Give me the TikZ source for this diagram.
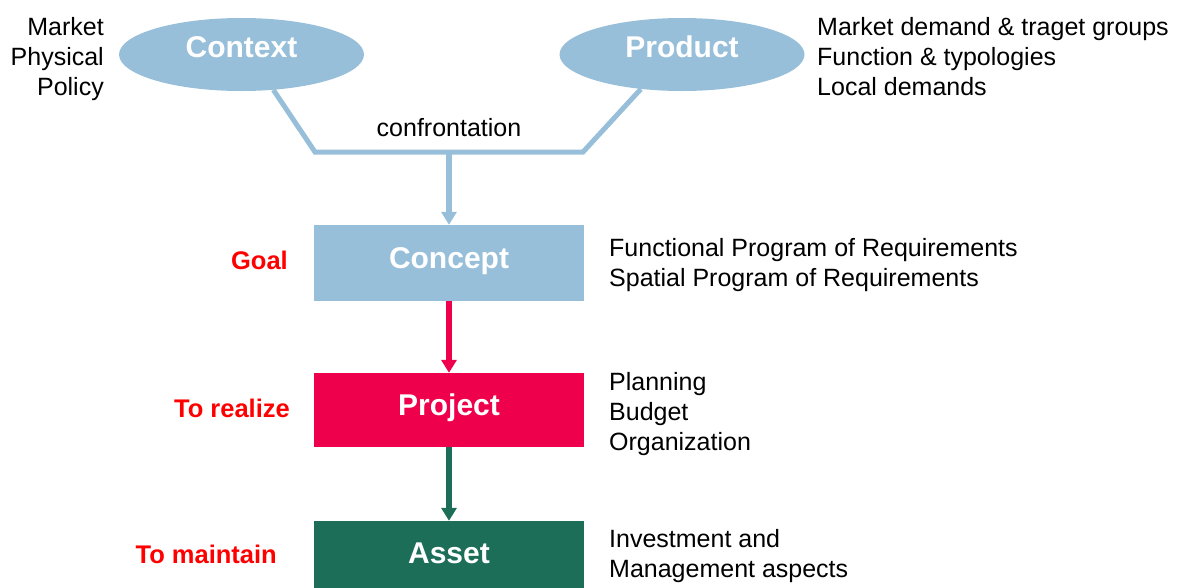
\documentclass[tikz,border=0pt]{standalone}
\usepackage{fontspec}
\setmainfont{Liberation Sans}
\usetikzlibrary{arrows.meta,shapes.geometric,backgrounds}
\definecolor{skyblue}{RGB}{152,191,218}
\definecolor{crimson}{RGB}{238,0,76}
\definecolor{pine}{RGB}{28,110,89}
\begin{document}
\begin{tikzpicture}[x=1pt,y=-1pt,
  bubble/.style={ellipse, fill=skyblue, draw=none, minimum width=245pt,
    minimum height=73pt, inner sep=0pt, text=white,
    font=\fontsize{30}{36}\selectfont\bfseries, text height=21.5pt, text depth=15.1pt},
  stage/.style={rectangle, fill=#1, minimum width=270pt, minimum height=74pt,
    inner sep=0pt, text=white, font=\fontsize{30}{36}\selectfont\bfseries,
    text height=21.5pt, text depth=11.1pt},
  note/.style={inner sep=0pt, font=\fontsize{25}{30}\selectfont},
  role/.style={inner sep=0pt, anchor=base east, text=red,
    font=\fontsize{25.5}{30}\selectfont\bfseries},
  link/.style={draw=skyblue, line width=5pt},
  flow/.style={line width=6pt, -{Triangle[width=15pt,length=13pt]}},
]
\useasboundingbox (0,0) rectangle (1183,587);
\clip (0,0) rectangle (1183,587);

% inputs
\node[bubble] (ctx) at (241.5,54.5) {Context};
\node[bubble] (prod) at (682,54.5) {Product};

% stages
\node[stage=skyblue, minimum height=76pt] (concept) at (449,263) {Concept};
\node[stage=crimson] (project) at (449,410) {Project};
\node[stage=pine] (asset) at (449,558) {Asset};

% confrontation of context and product
\coordinate (cl) at (315,152);
\coordinate (cr) at (583,152);
\coordinate (jn) at (concept.north |- cl);
\begin{scope}[on background layer]
  \draw[link] (ctx.-48) -- (cl) -- (cr) -- (prod.-140);
\end{scope}
\node[note, anchor=base] (conf) at (449,136) {confrontation};

% flow between stages
\draw[flow, skyblue] (jn) -- (concept.north);
\draw[flow, crimson] (concept.south) -- (project.north);
\draw[flow, pine] (project.south) -- (asset.north);

% side notes
\node[note, anchor=north east, align=right] (ctxnote) at (104,17)
  {Market\\Physical\\Policy};
\node[note, anchor=north west, align=left] (prodnote) at (817,17)
  {Market demand \& traget groups\\Function \& typologies\\Local demands};
\node[note, anchor=north west, align=left] (concnote) at (609,238)
  {Functional Program of Requirements\\Spatial Program of Requirements};
\node[note, anchor=north west, align=left] (projnote) at (609,372)
  {Planning\\Budget\\Organization};
\node[note, anchor=north west, align=left] (assetnote) at (609,529)
  {Investment and\\Management aspects};

% roles
\node[role] (goal) at (288,269) {Goal};
\node[role] (realize) at (290,417) {To realize};
\node[role] (maintain) at (277,563) {To maintain};
\end{tikzpicture}
\end{document}
